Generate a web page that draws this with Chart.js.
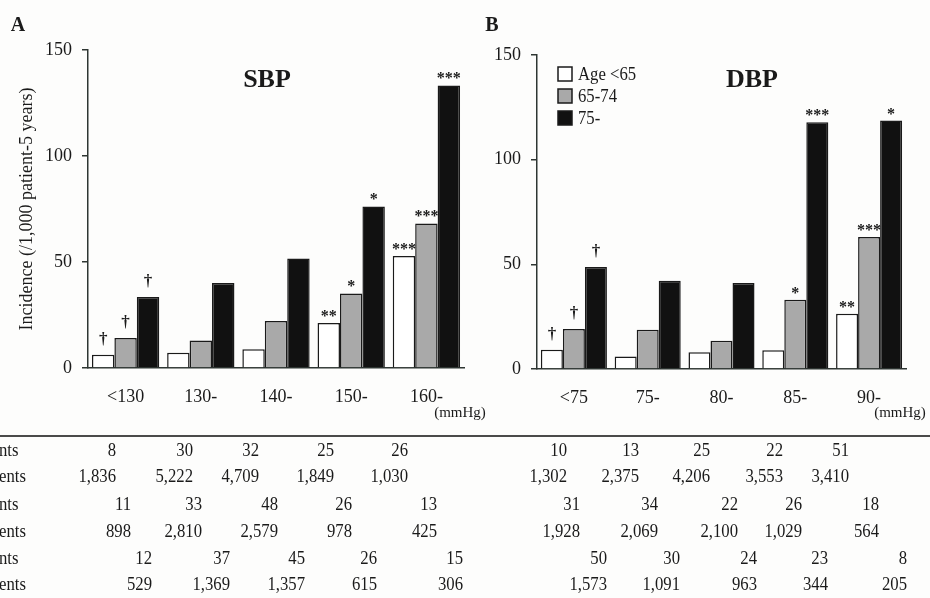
<!DOCTYPE html>
<html>
<head>
<meta charset="utf-8">
<script src="https://cdn.jsdelivr.net/npm/chart.js@4.4.1/dist/chart.umd.min.js"></script>
<style>
  html, body { margin: 0; padding: 0; background: #fdfdfc; }
  #wrap { position: relative; width: 930px; height: 598px; overflow: hidden; }
  canvas { position: absolute; top: 0; }
  #chartA { left: 0; }
  #chartB { left: 470px; }
</style>
</head>
<body>
<div id="wrap">
  <canvas id="chartA" width="500" height="598"></canvas>
  <canvas id="chartB" width="460" height="598"></canvas>
</div>
<script>
// Data
const ageGroups = ['Age <65', '65-74', '75-'];
const sbpLabels = ['<130', '130-', '140-', '150-', '160-'];
const dbpLabels = ['<75', '75-', '80-', '85-', '90-'];
const yTicks = [0, 50, 100, 150];

// incidence (/1,000 patient-5 years)
const sbpUnder65 = [6.3, 7.2, 8.8, 21.2, 52.8];
const sbp65to74 = [14.2, 13.0, 22.2, 35.2, 68.2];
const sbp75plus = [33.5, 40.1, 51.6, 76.2, 133.3];
const dbpUnder65 = [9.2, 6.0, 8.0, 8.9, 26.4];
const dbp65to74 = [19.1, 18.8, 13.5, 33.1, 63.0];
const dbp75plus = [48.7, 42.2, 41.1, 117.9, 118.7];

// significance marks, one row per age group
const sbpMarks = [['†', '', '', '**', '***'], ['†', '', '', '*', '***'], ['†', '', '', '*', '***']];
const dbpMarks = [['†', '', '', '', '**'], ['†', '', '', '*', '***'], ['†', '', '', '***', '*']];

// table under the charts: events / patients per age group
const sbpEvents = [[8, 30, 32, 25, 26], [11, 33, 48, 26, 13], [12, 37, 45, 26, 15]];
const sbpPatients = [[1836, 5222, 4709, 1849, 1030], [898, 2810, 2579, 978, 425], [529, 1369, 1357, 615, 306]];
const dbpEvents = [[10, 13, 25, 22, 51], [31, 34, 22, 26, 18], [50, 30, 24, 23, 8]];
const dbpPatients = [[1302, 2375, 4206, 3553, 3410], [1928, 2069, 2100, 1029, 564], [1573, 1091, 963, 344, 205]];
const rowLabels = ['nts', 'ents'];

// Layout (page pixels)
const FONT = "'Liberation Serif', 'Times New Roman', serif";
const INK = '#1a1a1a';
const barColors = ['#ffffff', '#a9a9a9', '#111111'];
const tableRowsY = [451, 477, 505, 532, 559, 585];
const sbpCols = [[116, 193, 259, 334, 408], [131, 202, 278, 352, 437], [152, 230, 305, 377, 463]];
const dbpCols = [[567, 639, 710, 783, 849], [580, 658, 738, 802, 879], [607, 680, 757, 828, 907]];

function fmt(n) {
  return n.toLocaleString('en-US');
}

// squeezed serif text, like the scanned figure
function squeezeText(ctx, text, x, y, align) {
  ctx.save();
  ctx.translate(x, y);
  ctx.scale(0.88, 1);
  ctx.textAlign = align;
  ctx.fillText(text, 0, 0);
  ctx.restore();
}

function decorPlugin(cfg) {
  return {
    id: 'decor' + cfg.letter,
    afterDraw(chart) {
      const ctx = chart.ctx;
      ctx.save();
      ctx.fillStyle = INK;
      ctx.strokeStyle = INK;

      // marks above bars
      chart.data.datasets.forEach((ds, i) => {
        const meta = chart.getDatasetMeta(i);
        meta.data.forEach((bar, j) => {
          const mark = cfg.marks[i][j];
          if (!mark) return;
          ctx.textAlign = 'center';
          ctx.textBaseline = 'alphabetic';
          if (mark === '†') {
            ctx.font = 'bold 17px ' + FONT;
            ctx.fillText(mark, bar.x, bar.y - 11);
          } else {
            ctx.font = 'bold 16px ' + FONT;
            ctx.fillText(mark, bar.x, bar.y - 2);
          }
        });
      });

      // panel letter and title
      ctx.textAlign = 'center';
      ctx.textBaseline = 'middle';
      ctx.font = 'bold 20px ' + FONT;
      ctx.fillText(cfg.letter, cfg.letterX, 26);
      ctx.font = 'bold 26px ' + FONT;
      ctx.fillText(cfg.title, cfg.titleX, 80);

      // unit under the last category
      ctx.font = '15px ' + FONT;
      ctx.fillText('(mmHg)', cfg.unitX, 413);

      // legend
      if (cfg.legend) {
        ctx.font = '19px ' + FONT;
        ctx.textAlign = 'left';
        chart.data.datasets.forEach((ds, i) => {
          const y = 74 + i * 22;
          ctx.fillStyle = ds.backgroundColor;
          ctx.fillRect(88, y - 7, 14, 14);
          ctx.lineWidth = 1.5;
          ctx.strokeRect(88, y - 7, 14, 14);
          ctx.fillStyle = INK;
          squeezeText(ctx, ds.label, 108, y + 1, 'left');
        });
      }

      // rule above the table
      ctx.lineWidth = 2;
      ctx.strokeStyle = '#4a4a4a';
      ctx.beginPath();
      ctx.moveTo(0, 436);
      ctx.lineTo(cfg.ruleEnd, 436);
      ctx.stroke();

      // table
      ctx.fillStyle = INK;
      ctx.font = '19px ' + FONT;
      ctx.textBaseline = 'middle';
      cfg.events.forEach((row, g) => {
        row.forEach((v, k) => {
          squeezeText(ctx, fmt(v), cfg.cols[g][k] - cfg.offset, tableRowsY[g * 2], 'right');
          squeezeText(ctx, fmt(cfg.patients[g][k]), cfg.cols[g][k] - cfg.offset, tableRowsY[g * 2 + 1], 'right');
        });
        if (cfg.rowLabels) {
          squeezeText(ctx, rowLabels[0], -1, tableRowsY[g * 2], 'left');
          squeezeText(ctx, rowLabels[1], -1, tableRowsY[g * 2 + 1], 'left');
        }
      });
      ctx.restore();
    }
  };
}

function makeChart(canvasId, labels, series, opts) {
  return new Chart(document.getElementById(canvasId), {
    type: 'bar',
    data: {
      labels: labels,
      datasets: series.map((values, i) => ({
        label: ageGroups[i],
        data: values,
        backgroundColor: barColors[i],
        borderColor: INK,
        borderWidth: 1.5,
        barPercentage: 1.0,
        categoryPercentage: 0.895
      }))
    },
    options: {
      responsive: false,
      animation: false,
      events: [],
      layout: { padding: { left: 0, right: opts.padRight, top: opts.padTop, bottom: opts.padBottom } },
      plugins: {
        legend: { display: false },
        tooltip: { enabled: false }
      },
      scales: {
        x: {
          grid: { display: false, drawTicks: false },
          border: { display: true, color: '#2e3633', width: 1.5 },
          ticks: { color: INK, padding: 18, font: { family: FONT, size: 18 } },
          afterFit: s => { s.height = 50; }
        },
        y: {
          min: 0,
          max: 150,
          afterBuildTicks: s => { s.ticks = yTicks.map(v => ({ value: v })); },
          grid: { drawOnChartArea: false, drawTicks: true, tickLength: 6, color: '#2e3633', lineWidth: 1.5 },
          border: { display: true, color: '#2e3633', width: 1.5 },
          ticks: { color: INK, padding: 10, font: { family: FONT, size: 18 } },
          title: {
            display: opts.yTitle !== '',
            text: opts.yTitle,
            color: INK,
            padding: { top: 16, bottom: 0 },
            font: { family: FONT, size: 18 }
          },
          afterFit: s => { s.width = opts.axisX; }
        }
      }
    },
    plugins: [decorPlugin(opts.decor)]
  });
}

// Panel A: systolic
makeChart('chartA', sbpLabels, [sbpUnder65, sbp65to74, sbp75plus], {
  padRight: 36, padTop: 50, padBottom: 180, axisX: 88,
  yTitle: 'Incidence (/1,000 patient-5 years)',
  decor: {
    letter: 'A', letterX: 18, title: 'SBP', titleX: 267, unitX: 460,
    marks: sbpMarks, events: sbpEvents, patients: sbpPatients,
    cols: sbpCols, offset: 0, rowLabels: true, legend: false, ruleEnd: 470
  }
});

// Panel B: diastolic
makeChart('chartB', dbpLabels, [dbpUnder65, dbp65to74, dbp75plus], {
  padRight: 24, padTop: 55, padBottom: 179, axisX: 67,
  yTitle: '',
  decor: {
    letter: 'B', letterX: 22, title: 'DBP', titleX: 282, unitX: 430,
    marks: dbpMarks, events: dbpEvents, patients: dbpPatients,
    cols: dbpCols, offset: 470, rowLabels: false, legend: true, ruleEnd: 460
  }
});
</script>
</body>
</html>
